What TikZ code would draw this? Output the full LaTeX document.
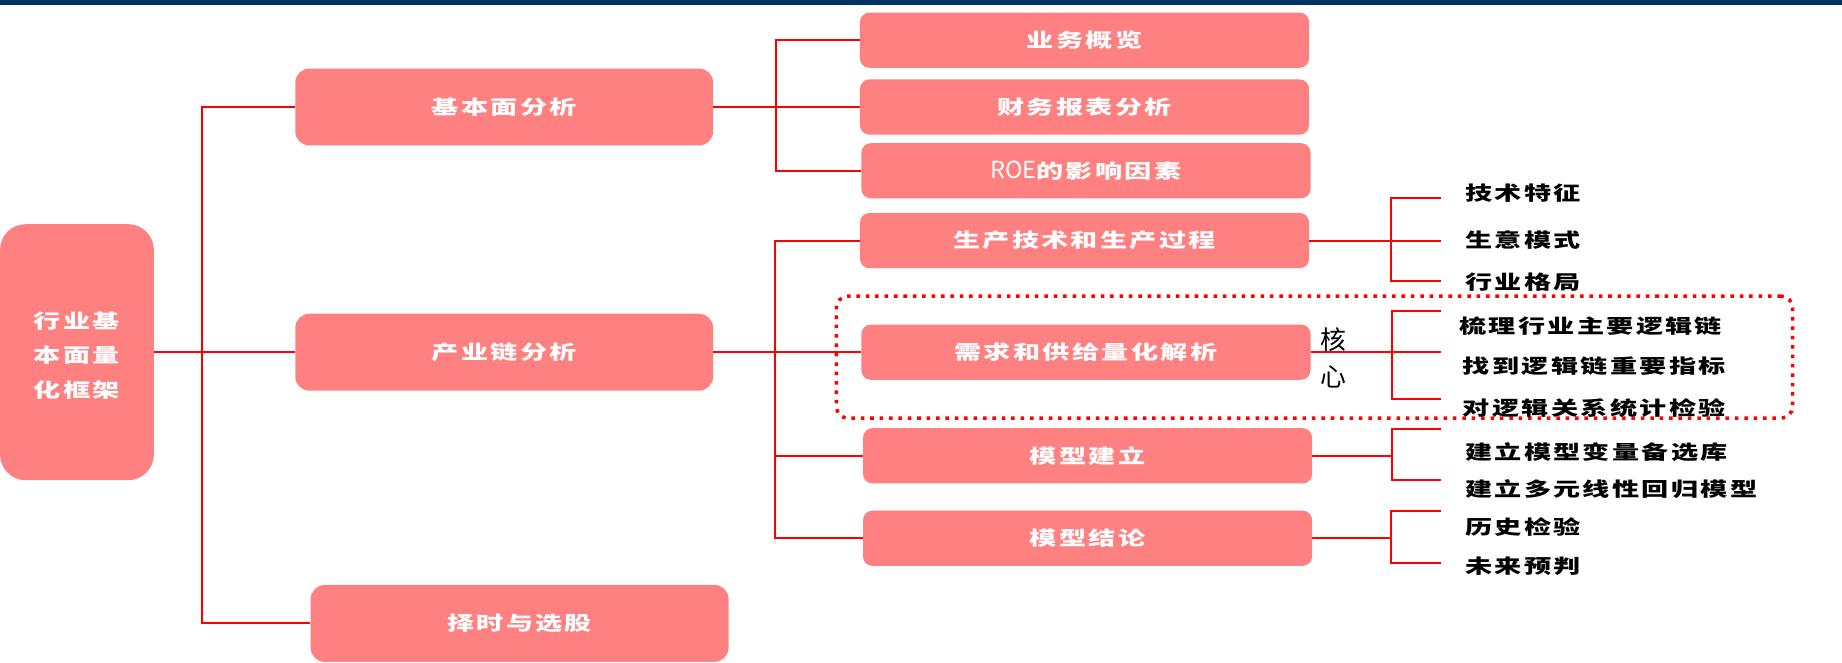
\documentclass[tikz,border=0pt]{standalone}
\usepackage{fontspec}
\usetikzlibrary{backgrounds}
\newfontfamily\cjk[FakeStretch=1.4,LetterSpace=12]{Noto Sans CJK SC}
\newfontfamily\cjkn{Noto Sans CJK SC}
\definecolor{boxfill}{RGB}{255,128,128}
\definecolor{navy}{RGB}{3,51,102}
\begin{document}
\begin{tikzpicture}[x=1pt,y=-1pt,
  box/.style={fill=boxfill, draw=none, text=white, font=\cjk\bfseries\fontsize{16.5}{20}\selectfont, inner sep=0pt, anchor=center},
  bigbox/.style={box, rounded corners=12pt, minimum width=355.7pt, minimum height=65.5pt},
  subbox/.style={box, rounded corners=8pt, minimum width=382.3pt, minimum height=47pt},
  lbl/.style={anchor=west, inner sep=0pt, font=\cjk\bfseries\fontsize{16.5}{20}\selectfont, text=black},
  conn/.style={draw=red, line width=1.7pt},
  core/.style={draw=red, line width=3pt, dash pattern=on 3pt off 5pt, rounded corners=10pt, fill=none, inner sep=0pt}
]
\useasboundingbox (0,0) rectangle (1568,564);
\fill[navy] (0,0) rectangle (1568,4.5);

% main boxes
\node[box, rounded corners=22pt, minimum width=131pt, minimum height=218pt] (root) at (65.5,299.8) {};
\node[text=white, inner sep=0pt, align=center,
      font=\cjk\bfseries\fontsize{16.5}{29.5}\selectfont] (rootlbl) at (65.5,302.5) {行业基\\本面量\\化框架};
\node[bigbox] (jbm) at (429.2,91.1) {基本面分析};
\node[bigbox] (cyl) at (429.2,299.8) {产业链分析};
\node[bigbox] (zsxg) at (442.3,530.7) {择时与选股};

\node[subbox] (ywgl) at (923.2,34.2) {业务概览};
\node[subbox] (cwbb) at (923.2,91.1) {财务报表分析};
\node[subbox] (roe) at (924.4,145.4) {{\cjkn\mdseries\fontsize{20}{20}\selectfont ROE}的影响因素};
\node[subbox] (scjs) at (923.2,204.8) {生产技术和生产过程};
\node[subbox] (xq) at (924.4,299.8) {需求和供给量化解析};
\node[subbox] (mxjl) at (925.8,388) {模型建立};
\node[subbox] (mxjc) at (925.8,458.2) {模型结论};

% core frame
\node[core, minimum width=814pt, minimum height=104pt] (core) at (1119,304) {};
\node[inner sep=0pt, font=\cjkn\fontsize{22}{26}\selectfont] (he) at (1135,289) {核};
\node[inner sep=0pt, font=\cjkn\fontsize{22}{26}\selectfont] (xin) at (1135,321) {心};

% leaf labels
\node[lbl] (l1) at (1247,164.6) {技术特征};
\node[lbl] (l2) at (1247,204.6) {生意模式};
\node[lbl] (l3) at (1247,239.8) {行业格局};
\node[lbl] (l4) at (1242,277.3) {梳理行业主要逻辑链};
\node[lbl] (l5) at (1245,311.4) {找到逻辑链重要指标};
\node[lbl] (l6) at (1245,347.5) {对逻辑关系统计检验};
\node[lbl] (l7) at (1247,384.5) {建立模型变量备选库};
\node[lbl] (l8) at (1247,416.5) {建立多元线性回归模型};
\node[lbl] (l9) at (1247,448.3) {历史检验};
\node[lbl] (l10) at (1247,482.4) {未来预判};

% coordinates
\coordinate (t1) at (172,299.8);
\coordinate (t2) at (660.6,91.1);
\coordinate (t3) at (660,299.8);
\coordinate (ta) at (1184,204.8);
\coordinate (a1) at (1227,168.5);
\coordinate (a2) at (1227,204.8);
\coordinate (a3) at (1227,239.5);
\coordinate (tb) at (1185,299.8);
\coordinate (b1) at (1227,264.5);
\coordinate (b2) at (1227,299.8);
\coordinate (b3) at (1227,340);
\coordinate (tc) at (1185,388);
\coordinate (c1) at (1227,365);
\coordinate (c2) at (1227,409);
\coordinate (td) at (1184,458.2);
\coordinate (d1) at (1227,434.7);
\coordinate (d2) at (1227,479.3);

\begin{pgfonlayer}{background}
\draw[conn] (root.east) -- (cyl.west);
\draw[conn] (jbm.west) -| (t1) |- (zsxg.west);
\draw[conn] (jbm.east) -- (cwbb.west);
\draw[conn] (ywgl.west) -| (t2) |- (roe.west);
\draw[conn] (cyl.east) -- (xq.west);
\draw[conn] (scjs.west) -| (t3) |- (mxjc.west);
\draw[conn] (t3) |- (mxjl.west);
\draw[conn] (scjs.east) -- (a2);
\draw[conn] (a1) -| (ta) |- (a3);
\draw[conn] (xq.east) -- (b2);
\draw[conn] (b1) -| (tb) |- (b3);
\draw[conn] (mxjl.east) -- (tc);
\draw[conn] (c1) -| (tc) |- (c2);
\draw[conn] (mxjc.east) -- (td);
\draw[conn] (d1) -| (td) |- (d2);
\end{pgfonlayer}
\end{tikzpicture}
\end{document}
